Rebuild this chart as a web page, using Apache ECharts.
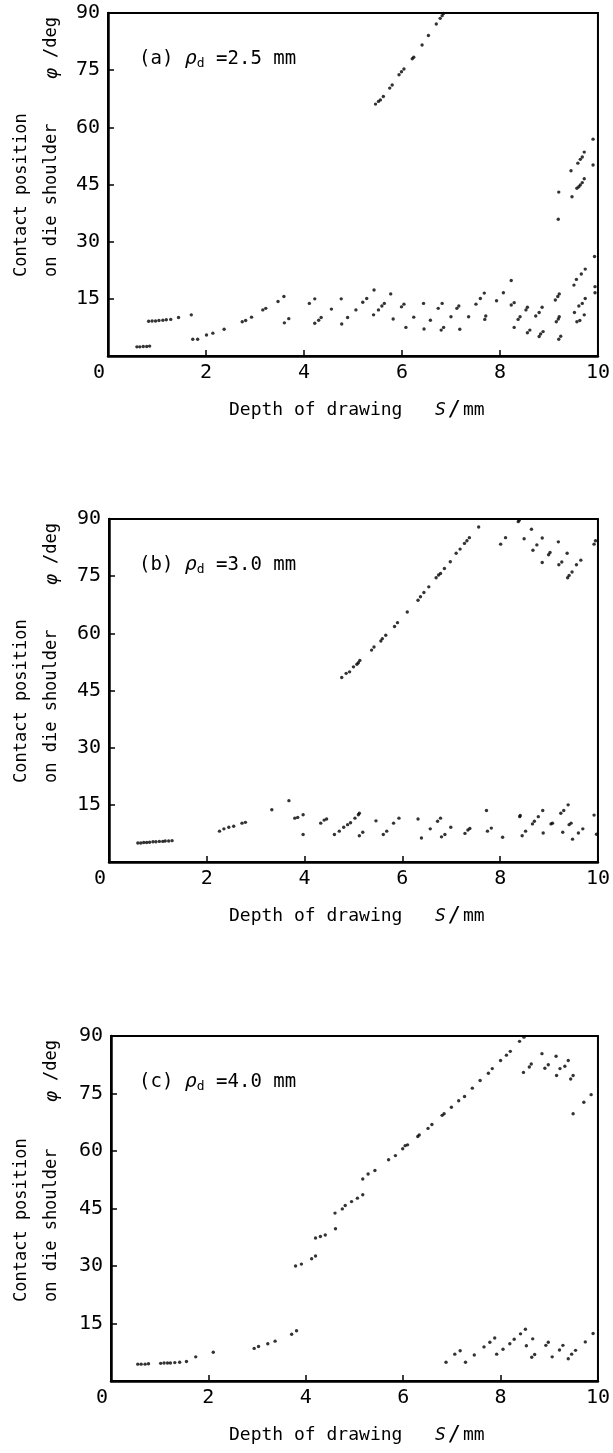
<!DOCTYPE html>
<html><head><meta charset="utf-8">
<script src="https://cdn.jsdelivr.net/npm/echarts@6/dist/echarts.min.js"></script>
<style>html,body{margin:0;padding:0;background:#fff}#c{width:613px;height:1453px}</style>
</head><body><div id="c"></div>
<script>
// ---- data (S in mm, phi in deg) ----
const xTickValues = [0, 2, 4, 6, 8, 10];
const yTickValues = [0, 15, 30, 45, 60, 75, 90];
const panelLabels = ['(a)', '(b)', '(c)'];
const rhoValues = ['2.5', '3.0', '4.0'];

const lowerA = [[0.59,2.4],[0.65,2.4],[0.72,2.5],[0.79,2.5],[0.85,2.6],
[0.83,9.1],[0.90,9.2],[0.97,9.2],[1.04,9.3],[1.12,9.4],[1.19,9.5],[1.28,9.6],[1.44,10.1],[1.70,10.8],
[1.73,4.4],[1.83,4.4],[2.01,5.5],[2.14,6.0],[2.37,7.0],[2.74,9.0],[2.81,9.3],[2.93,10.2],[3.16,12.1],[3.22,12.5],[3.47,14.3],[3.59,15.6],[3.60,8.7],[3.69,9.8],[4.11,13.8],[4.22,15.0],[4.22,8.6],[4.30,9.4],[4.35,10.1],[4.56,12.3],[4.76,15.0],[4.77,8.4],[4.89,10.1],[5.06,12.1],[5.20,14.1],[5.28,15.1],[5.43,17.3],[5.42,10.8],[5.52,12.1],[5.59,13.1],[5.64,13.8],[5.77,16.3],[5.82,9.7],[5.99,12.9],[6.04,13.6],[6.08,7.5],[6.24,10.2],[6.44,13.8],[6.45,7.1],[6.58,9.4],[6.74,12.5],[6.82,13.8],[6.80,6.8],[6.85,7.5],[7.00,10.3],[7.12,12.5],[7.16,13.1],[7.18,7.0],[7.36,10.3],[7.51,13.6],[7.60,15.1],[7.68,16.5],[7.69,9.6],[7.71,10.5],[7.93,14.5],[8.07,16.6],[8.23,19.8],[8.23,13.4],[8.29,14.0],[8.29,7.5],[8.37,9.6],[8.41,10.3],[8.53,12.1],[8.56,12.8],[8.56,6.1],[8.61,6.8],[8.73,10.5],[8.80,11.4],[8.86,12.8],[8.80,5.1],[8.83,5.8],[8.88,6.4],[9.13,14.7],[9.18,15.6],[9.21,16.3],[9.15,9.0],[9.19,9.7],[9.21,10.3],[9.20,4.4],[9.24,5.2],[9.51,18.6],[9.56,20.1],[9.66,21.5],[9.74,22.8],[9.52,11.4],[9.61,13.1],[9.68,13.8],[9.74,15.1],[9.57,9.0],[9.63,9.3],[9.72,10.8],[9.93,26.1],[9.94,18.2],[9.94,16.6]];
const upperA = [[5.46,66.1],[5.52,66.8],[5.56,67.2],[5.62,68.1],[5.75,70.3],[5.80,71.1],[5.94,73.8],[5.99,74.6],[6.04,75.3],[6.21,78.0],[6.24,78.4],[6.41,81.6],[6.54,84.1],[6.70,87.1],[6.78,88.6],[6.82,89.3],[6.85,89.9],
[9.19,35.9],[9.20,43.0],[9.47,41.8],[9.45,48.6],[9.57,44.0],[9.61,44.4],[9.64,44.9],[9.68,45.5],[9.72,46.5],[9.59,50.6],[9.64,51.6],[9.68,52.2],[9.72,53.5],[9.90,50.1],[9.90,56.9]];

const lowerB = [[0.59,5.0],[0.65,5.0],[0.71,5.1],[0.77,5.1],[0.83,5.2],[0.90,5.3],[0.96,5.3],[1.03,5.4],[1.10,5.4],[1.15,5.5],[1.22,5.5],[1.29,5.6],
[2.26,8.1],[2.35,8.7],[2.45,9.1],[2.55,9.4],[2.72,10.2],[2.79,10.4],[3.33,13.7],[3.68,16.1],[3.80,11.5],[3.86,11.7],[3.97,12.4],[3.97,7.2],[4.33,10.2],[4.40,11.0],[4.45,11.3],[4.61,7.2],[4.71,8.1],[4.80,9.1],[4.88,9.8],[4.94,10.3],[5.03,11.5],[5.10,12.4],[5.12,12.8],[5.12,6.9],[5.19,7.8],[5.46,10.8],[5.61,7.2],[5.68,8.1],[5.82,10.2],[5.93,11.5],[6.32,11.3],[6.39,6.3],[6.57,8.7],[6.72,10.7],[6.78,11.5],[6.80,6.6],[6.87,7.2],[6.99,9.1],[7.28,7.5],[7.34,8.4],[7.38,8.8],[7.72,13.5],[7.74,8.1],[7.82,8.9],[8.05,6.5],[8.40,11.9],[8.41,12.2],[8.45,6.9],[8.52,8.1],[8.66,10.0],[8.70,10.7],[8.78,11.9],[8.87,13.5],[8.88,7.6],[9.04,10.0],[9.07,10.2],[9.24,12.8],[9.30,13.5],[9.39,15.0],[9.28,7.8],[9.41,9.8],[9.45,10.2],[9.48,6.0],[9.60,7.6],[9.69,8.7],[9.92,12.3],[9.97,7.3]];
const upperB = [[4.76,48.4],[4.85,49.5],[4.92,49.9],[5.00,51.2],[5.07,51.9],[5.10,52.3],[5.13,52.9],[5.37,55.6],[5.42,56.4],[5.56,58.0],[5.59,58.6],[5.66,59.5],[5.84,61.8],[5.90,62.8],[6.10,65.6],[6.32,68.7],[6.37,69.6],[6.44,70.7],[6.54,72.2],[6.69,74.6],[6.74,75.3],[6.78,75.7],[6.86,77.0],[6.98,78.8],[7.10,81.0],[7.18,82.1],[7.27,83.6],[7.32,84.3],[7.37,85.1],[7.56,87.9],[8.01,83.4],[8.11,85.1],[8.37,89.3],[8.39,89.7],[8.49,84.8],[8.64,87.3],[8.67,81.8],[8.75,83.2],[8.86,85.0],[8.86,78.6],[8.99,80.6],[9.02,81.2],[9.19,84.0],[9.20,78.0],[9.26,78.7],[9.37,81.0],[9.38,74.6],[9.41,75.2],[9.47,76.1],[9.56,78.0],[9.65,79.2],[9.92,83.4],[9.95,84.3]];

const lowerC = [[0.55,4.4],[0.62,4.4],[0.70,4.4],[0.77,4.5],[1.02,4.6],[1.09,4.7],[1.16,4.7],[1.22,4.7],[1.31,4.8],[1.41,4.9],[1.55,5.1],[1.74,6.3],[2.10,7.5],[2.94,8.5],[3.03,9.0],[3.22,9.7],[3.37,10.4],[3.71,12.2],[3.81,13.1],
[6.88,4.9],[7.06,7.0],[7.17,7.9],[7.28,4.9],[7.46,6.8],[7.66,8.9],[7.78,10.1],[7.88,11.2],[7.92,7.0],[8.05,8.3],[8.19,9.7],[8.28,10.9],[8.41,12.3],[8.51,13.5],[8.53,9.2],[8.66,11.0],[8.64,6.2],[8.70,6.9],[8.93,9.3],[8.98,10.1],[9.06,6.3],[9.21,8.1],[9.28,9.3],[9.39,5.8],[9.46,7.0],[9.54,8.0],[9.74,10.2],[9.90,12.4]];
const upperC = [[3.79,30.0],[3.91,30.5],[4.12,31.9],[4.20,32.6],[4.20,37.3],[4.30,37.7],[4.40,38.1],[4.61,39.7],[4.60,43.8],[4.75,44.9],[4.81,45.8],[4.94,46.8],[5.06,47.7],[5.17,48.6],[5.17,52.7],[5.28,54.0],[5.42,54.9],[5.70,57.7],[5.84,58.8],[5.99,60.6],[6.04,61.4],[6.09,61.6],[6.30,63.8],[6.33,64.2],[6.51,65.9],[6.59,66.9],[6.80,69.3],[6.84,69.7],[6.99,71.4],[7.14,73.1],[7.26,74.2],[7.42,76.4],[7.58,78.4],[7.75,80.3],[7.83,81.5],[8.00,83.6],[8.12,85.0],[8.20,86.0],[8.39,88.6],[8.48,89.7],[8.47,80.5],[8.59,81.9],[8.63,82.7],[8.85,85.4],[8.91,81.6],[8.98,82.5],[9.14,84.7],[9.15,79.7],[9.22,81.5],[9.32,82.1],[9.39,83.6],[9.44,78.8],[9.49,79.7],[9.49,69.7],[9.71,72.7],[9.86,74.7]];

const panelSeries = [[lowerA, upperA], [lowerB, upperB], [lowerC, upperC]];

// ---- layout ----
const FONT = "'DejaVu Sans Mono', 'Liberation Mono', monospace";
const grids = [
  {left:108, top:13, width:494, height:343},
  {left:109, top:519, width:493, height:343},
  {left:111, top:1036, width:493, height:345}
];

const chart = echarts.init(document.getElementById('c'), null, {renderer:'canvas'});
const option = {
  backgroundColor:'#fff',
  animation:false,
  grid: grids.map(g => Object.assign({show:true, borderColor:'#000', borderWidth:2, backgroundColor:'transparent'}, g)),
  xAxis: grids.map((g,i) => ({
    type:'value', gridIndex:i, min:xTickValues[0], max:xTickValues[xTickValues.length-1], interval:2,
    axisLine:{show:true, onZero:false, lineStyle:{color:'#000', width:2.5}},
    axisTick:{show:true, inside:true, length:6, lineStyle:{color:'#000', width:1.5}},
    splitLine:{show:false},
    axisLabel:{color:'#000', fontFamily:FONT, fontSize:20, margin:7,
      formatter: v => v === 0 ? '{z|0}' : String(v),
      rich:{z:{fontFamily:FONT, fontSize:20, color:'#000', padding:[0,18,0,0]}}}
  })),
  yAxis: grids.map((g,i) => ({
    type:'value', gridIndex:i, min:yTickValues[0], max:yTickValues[yTickValues.length-1], interval:15,
    axisLine:{show:true, onZero:false, lineStyle:{color:'#000', width:2.5}},
    axisTick:{show:true, inside:true, length:6, lineStyle:{color:'#000', width:1.5}},
    splitLine:{show:false},
    axisLabel:{color:'#000', fontFamily:FONT, fontSize:20, margin:8,
      formatter: v => v === 0 ? '' : String(v)}
  })),
  series: [],
  graphic: []
};

panelSeries.forEach((arrs, i) => {
  arrs.forEach(d => option.series.push({
    type:'scatter', xAxisIndex:i, yAxisIndex:i, data:d,
    symbol:'circle', symbolSize:3.4, itemStyle:{color:'#000'}, silent:true
  }));
});

grids.forEach((g, i) => {
  const bottom = g.top + g.height;
  option.graphic.push({
    type:'text', x:139, y:g.top + 46,
    style:{
      text:'{p|' + panelLabels[i] + ' }{r|ρ}{s|d}{p| =' + rhoValues[i] + ' mm}',
      verticalAlign:'middle', textVerticalAlign:'middle',
      rich:{
        p:{fontFamily:FONT, fontSize:19, fill:'#000', color:'#000'},
        r:{fontFamily:FONT, fontSize:20, fontStyle:'italic', fill:'#000', color:'#000'},
        s:{fontFamily:FONT, fontSize:13, fill:'#000', color:'#000', padding:[10,0,0,0]}
      }
    }
  });
  option.graphic.push({
    type:'text', x:22, y:bottom - 79, rotation:Math.PI/2,
    style:{text:'Contact position', font:"17px " + FONT, fill:'#000',
      align:'left', textAlign:'left', verticalAlign:'middle', textVerticalAlign:'middle'}
  });
  option.graphic.push({
    type:'text', x:52, y:bottom - 79, rotation:Math.PI/2,
    style:{text:'on die shoulder', font:"17px " + FONT, fill:'#000',
      align:'left', textAlign:'left', verticalAlign:'middle', textVerticalAlign:'middle'}
  });
  option.graphic.push({
    type:'text', x:52, y:g.top + 66, rotation:Math.PI/2,
    style:{text:'{i|φ}{n| /deg}', align:'left', textAlign:'left', verticalAlign:'middle', textVerticalAlign:'middle',
      rich:{i:{fontFamily:FONT, fontSize:18, fontStyle:'italic', fill:'#000', color:'#000'},
            n:{fontFamily:FONT, fontSize:17, fill:'#000', color:'#000'}}}
  });
  option.graphic.push({
    type:'text', x:229, y:bottom + 54,
    style:{text:'{n|Depth of drawing   }{i|S}{q|/}{n|mm}', align:'left', textAlign:'left', verticalAlign:'middle', textVerticalAlign:'middle',
      rich:{n:{fontFamily:FONT, fontSize:18, fill:'#000', color:'#000'},
            q:{fontFamily:FONT, fontSize:22, fill:'#000', color:'#000', padding:[0,2,0,2]},
            i:{fontFamily:FONT, fontSize:18, fontStyle:'italic', fill:'#000', color:'#000'}}}
  });
});

chart.setOption(option);
</script>
</body></html>
